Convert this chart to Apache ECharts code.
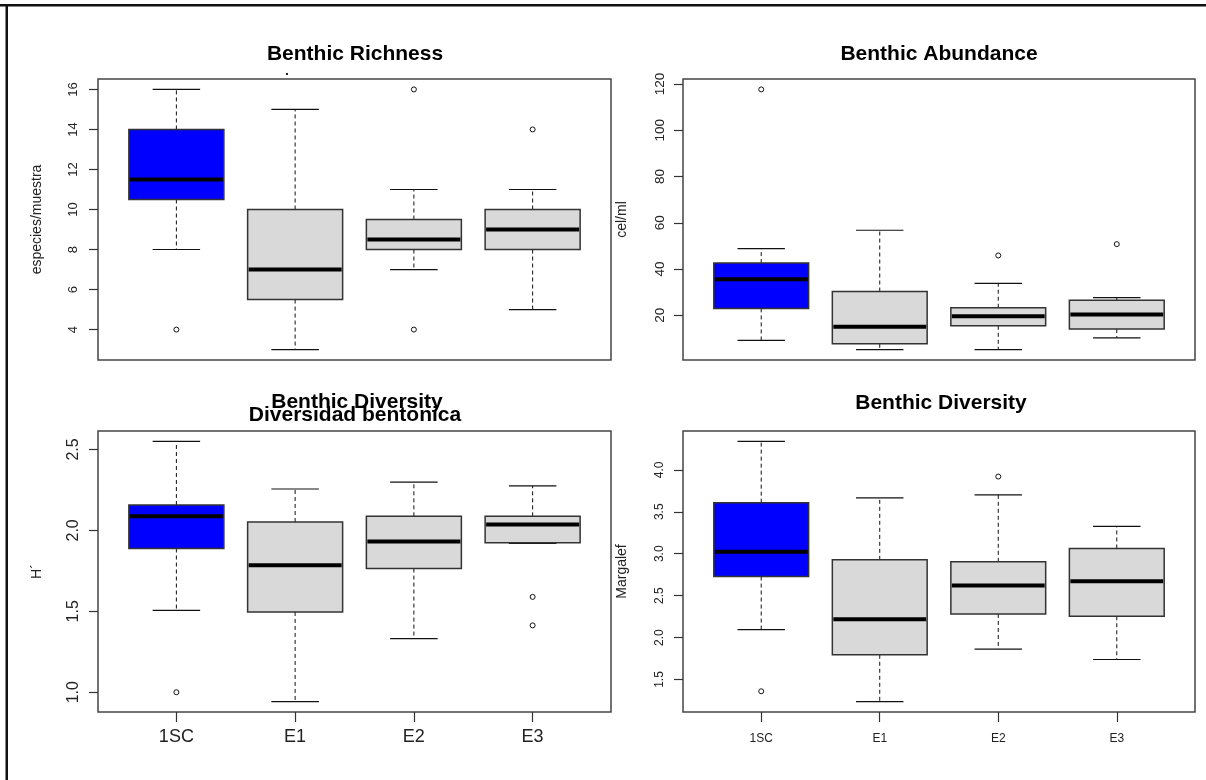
<!DOCTYPE html>
<html><head><meta charset="utf-8">
<script src="https://cdn.jsdelivr.net/npm/echarts@6/dist/echarts.min.js"></script>
<style>html,body{margin:0;padding:0;background:#fff}#c{width:1206px;height:780px}</style>
</head><body><div id="c"></div>
<script>
// ---------- DATA ----------
const categories = ['1SC', 'E1', 'E2', 'E3'];
// each box: [lower whisker, Q1, median, Q3, upper whisker]
const richnessBoxes = [[8, 10.5, 11.5, 14, 16], [3, 5.5, 7, 10, 15], [7, 8, 8.5, 9.5, 11], [5, 8, 9, 10, 11]];
const richnessOutliers = [['1SC', 4], ['E2', 16], ['E2', 4], ['E3', 14]];
const richnessTicks = [4, 6, 8, 10, 12, 14, 16];

const abundanceBoxes = [[9.2, 23.0, 35.6, 42.6, 48.9], [5.2, 7.7, 15.1, 30.3, 56.8], [5.2, 15.5, 19.6, 23.3, 33.8], [10.3, 14.1, 20.4, 26.5, 27.7]];
const abundanceOutliers = [['1SC', 117.7], ['E2', 45.9], ['E3', 50.8]];
const abundanceTicks = [20, 40, 60, 80, 100, 120];

const shannonBoxes = [[1.506, 1.888, 2.087, 2.157, 2.55], [0.942, 1.496, 1.785, 2.052, 2.256], [1.331, 1.764, 1.932, 2.087, 2.298], [1.92, 1.924, 2.037, 2.087, 2.275]];
const shannonOutliers = [['1SC', 1.0], ['E3', 1.589], ['E3', 1.413]];
const shannonTicks = [1.0, 1.5, 2.0, 2.5];

const margalefBoxes = [[2.094, 2.728, 3.023, 3.609, 4.339], [1.237, 1.795, 2.218, 2.927, 3.665], [1.863, 2.282, 2.62, 2.904, 3.701], [1.739, 2.254, 2.672, 3.063, 3.326]];
const margalefOutliers = [['1SC', 1.36], ['E2', 3.92]];
const margalefTicks = [1.5, 2.0, 2.5, 3.0, 3.5, 4.0];

const titles = ['Benthic Richness', 'Benthic Abundance', 'Benthic Diversity', 'Diversidad bentonica', 'Benthic Diversity'];
const yNames = ['especies/muestra', 'cel/ml', 'H´', 'Margalef'];

// ---------- STYLE / LAYOUT ----------
const fills = ['#0000FF', '#D9D9D9', '#D9D9D9', '#D9D9D9'];
const grids = [
  { left: 98, top: 79, width: 513, height: 281 },
  { left: 683, top: 79, width: 512, height: 281 },
  { left: 98, top: 431, width: 513, height: 281 },
  { left: 683, top: 431, width: 512, height: 281 }
];
const panels = [
  { boxes: richnessBoxes, out: richnessOutliers, ticks: richnessTicks, dec: 0, ylab: 13, yMargin: 18, xlab: 0 },
  { boxes: abundanceBoxes, out: abundanceOutliers, ticks: abundanceTicks, dec: 0, ylab: 13.5, yMargin: 16, xlab: 0 },
  { boxes: shannonBoxes, out: shannonOutliers, ticks: shannonTicks, dec: 1, ylab: 16, yMargin: 16, xlab: 18, xMargin: 16 },
  { boxes: margalefBoxes, out: margalefOutliers, ticks: margalefTicks, dec: 1, ylab: 12, yMargin: 17, xlab: 12, xMargin: 21 }
];

function renderBox(params, api) {
  const x = api.value(0);
  const pLo = api.coord([x, api.value(1)]);
  const pQ1 = api.coord([x, api.value(2)]);
  const pMed = api.coord([x, api.value(3)]);
  const pQ3 = api.coord([x, api.value(4)]);
  const pHi = api.coord([x, api.value(5)]);
  const bw = api.size([0.8, 0])[0];
  const cw = bw / 2;
  const cx = pLo[0];
  const dash = { stroke: '#111', lineWidth: 1, lineDash: [4, 3] };
  const cap = { stroke: '#111', lineWidth: 1.2 };
  return {
    type: 'group',
    children: [
      { type: 'line', shape: { x1: cx, y1: pQ1[1], x2: cx, y2: pLo[1] }, style: dash },
      { type: 'line', shape: { x1: cx, y1: pQ3[1], x2: cx, y2: pHi[1] }, style: dash },
      { type: 'line', shape: { x1: cx - cw / 2, y1: pLo[1], x2: cx + cw / 2, y2: pLo[1] }, style: cap },
      { type: 'line', shape: { x1: cx - cw / 2, y1: pHi[1], x2: cx + cw / 2, y2: pHi[1] }, style: cap },
      { type: 'rect', shape: { x: cx - bw / 2, y: pQ3[1], width: bw, height: pQ1[1] - pQ3[1] },
        style: { fill: fills[params.dataIndex], stroke: '#333', lineWidth: 1.5 } },
      { type: 'line', shape: { x1: cx - bw / 2 + 1, y1: pMed[1], x2: cx + bw / 2 - 1, y2: pMed[1] },
        style: { stroke: '#000', lineWidth: 4 } }
    ]
  };
}

const option = {
  animation: false,
  backgroundColor: '#fff',
  textStyle: { fontFamily: 'Liberation Sans, Arial, sans-serif' },
  grid: [], xAxis: [], yAxis: [], series: [],
  graphic: []
};

panels.forEach((p, i) => {
  const all = [];
  p.boxes.forEach(b => all.push(...b));
  p.out.forEach(o => all.push(o[1]));
  const dmin = Math.min(...all), dmax = Math.max(...all);
  const pad = (dmax - dmin) * 0.04;
  option.grid.push(Object.assign({ show: true, borderColor: '#444', borderWidth: 1.5, backgroundColor: 'transparent' }, grids[i]));
  const hasX = p.xlab > 0;
  option.xAxis.push({
    type: 'value', gridIndex: i, min: 0.34, max: 4.66,
    splitLine: { show: false }, axisLine: { show: false },
    axisTick: { show: hasX, customValues: [1, 2, 3, 4], length: 10, lineStyle: { color: '#333', width: 1.2 } },
    axisLabel: { show: hasX, customValues: [1, 2, 3, 4], fontSize: p.xlab || 12, color: '#222', margin: p.xMargin || 16,
      formatter: v => categories[Math.round(v) - 1] }
  });
  option.yAxis.push({
    type: 'value', gridIndex: i, min: dmin - pad, max: dmax + pad,
    splitLine: { show: false }, axisLine: { show: false },
    axisTick: { show: true, customValues: p.ticks, length: 9, lineStyle: { color: '#333', width: 1.2 } },
    axisLabel: { customValues: p.ticks, rotate: 90, fontSize: p.ylab, color: '#222', margin: p.yMargin,
      formatter: v => Number(v).toFixed(p.dec) },
    name: yNames[i], nameLocation: 'middle', nameGap: 54,
    nameTextStyle: { fontSize: 14, color: '#222' }
  });
  option.series.push({
    type: 'custom', xAxisIndex: i, yAxisIndex: i, renderItem: renderBox, silent: true,
    encode: { x: 0, y: [1, 2, 3, 4, 5] },
    data: p.boxes.map((b, k) => [k + 1, ...b])
  });
  option.series.push({
    type: 'scatter', xAxisIndex: i, yAxisIndex: i, silent: true,
    symbol: 'circle', symbolSize: 5,
    itemStyle: { color: 'rgba(0,0,0,0)', borderColor: '#111', borderWidth: 1, opacity: 1 },
    data: p.out.map(o => [categories.indexOf(o[0]) + 1, o[1]])
  });
});

const titlePos = [[355, 54], [939, 54], [357, 402], [355, 415], [941, 403]];
titles.forEach((t, k) => {
  option.graphic.push({
    type: 'text', x: titlePos[k][0], y: titlePos[k][1], silent: true,
    style: { text: t, fill: '#000', font: 'bold 21px "Liberation Sans", Arial, sans-serif', align: 'center', verticalAlign: 'middle' }
  });
});
// outer frame lines (top and left) and small stray mark
option.graphic.push({ type: 'rect', shape: { x: 0, y: 4, width: 1206, height: 2.5 }, style: { fill: '#111' }, silent: true });
option.graphic.push({ type: 'rect', shape: { x: 5.5, y: 4, width: 2.5, height: 776 }, style: { fill: '#111' }, silent: true });
option.graphic.push({ type: 'rect', shape: { x: 286, y: 73, width: 2, height: 2 }, style: { fill: '#222' }, silent: true });

const chart = echarts.init(document.getElementById('c'), null, { renderer: 'canvas' });
chart.setOption(option);
</script>
</body></html>
